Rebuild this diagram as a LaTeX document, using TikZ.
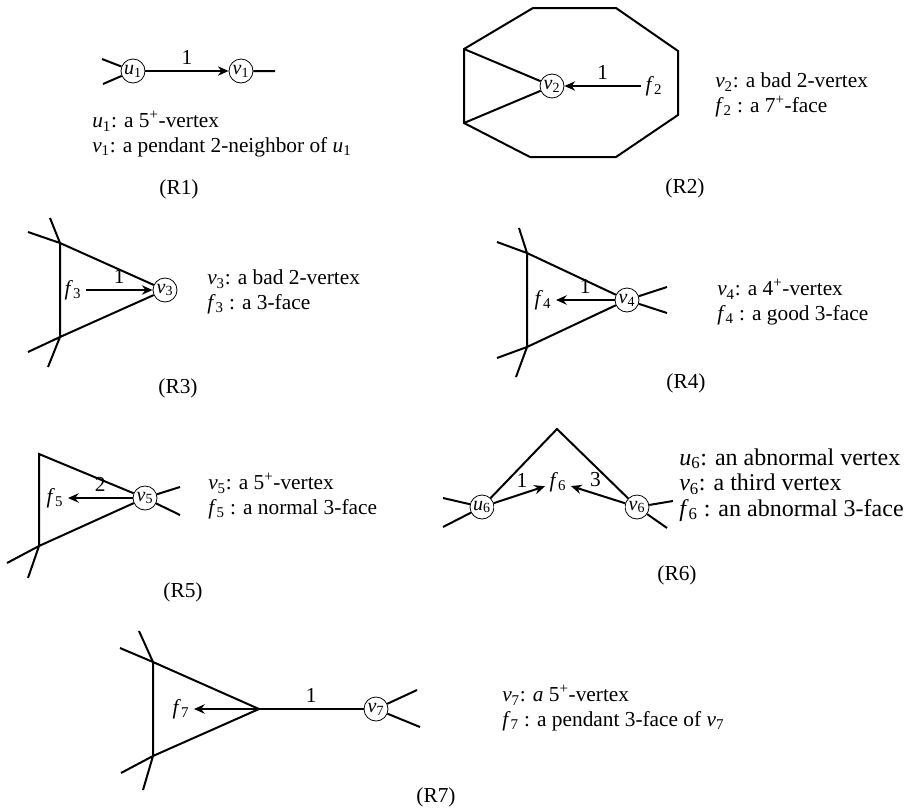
\documentclass[tikz,border=0pt]{standalone}
\usepackage{fontspec}
\setmainfont{Liberation Serif}
\usetikzlibrary{arrows.meta,positioning}
\newcommand{\lab}[2]{\textit{#1}\textsubscript{#2}}

\begin{document}
\begin{tikzpicture}[
  x=0.75pt, y=-0.75pt,
  font=\fontsize{16}{18.5}\selectfont,
  edge/.style={line width=1.5pt},
  vtx/.style={circle, draw, line width=0.6pt, minimum size=18pt,
              inner sep=0pt, font=\fontsize{15}{15}\selectfont},
  arr/.style={line width=1.5pt, -{Stealth[length=8pt,width=7pt]}},
  desc/.style={anchor=west, align=left, inner sep=0pt},
  title/.style={inner sep=0pt}
]
\useasboundingbox (0,0) rectangle (906,807);

% (R1)
\node[vtx] (u1) at (133,71) {\lab{u}{1}};
\node[vtx] (v1) at (241,71) {\lab{v}{1}};
\coordinate (u1a) at (102,59);
\coordinate (u1b) at (103,84);
\coordinate (v1r) at (275,71);
\draw[arr] (u1) -- node[above=1pt] {1} (v1);
\draw[edge] (u1a) -- (u1) (u1b) -- (u1) (v1) -- (v1r);
\node[desc] (t1) at (92,134) {\lab{u}{1}: a 5\textsuperscript{+}-vertex\\
  \lab{v}{1}: a pendant 2-neighbor of \lab{u}{1}};
\node[title] (r1) at (179,189) {(R1)};

% (R2)
\coordinate (o1) at (533,8);
\coordinate (o2) at (616,8);
\coordinate (o3) at (678,51);
\coordinate (o4) at (678,115);
\coordinate (o5) at (616,157);
\coordinate (o6) at (530,157);
\coordinate (o7) at (464,123);
\coordinate (o8) at (464,49);
\draw[edge] (o1) -- (o2) -- (o3) -- (o4) -- (o5) -- (o6) -- (o7) -- (o8) -- cycle;
\node[vtx] (v2) at (552,86) {\lab{v}{2}};
\draw[edge] (o8) -- (v2) -- (o7);
\node (f2) at (654,86) {\lab{f}{2}};
\draw[arr] (f2) -- node[above=1pt] {1} (v2);
\node[desc] (t2) at (715,95) {\lab{v}{2}: a bad 2-vertex\\
  \lab{f}{2} : a 7\textsuperscript{+}-face};
\node[title] (r2) at (685,188) {(R2)};

% (R3)
\coordinate (a3) at (60,243);
\coordinate (b3) at (60,337);
\coordinate (a3x) at (28,232);
\coordinate (a3y) at (50,218);
\coordinate (b3x) at (28,352);
\coordinate (b3y) at (48,367);
\node[vtx] (v3) at (165,290) {\lab{v}{3}};
\draw[edge] (v3) -- (a3) -- (b3) -- (v3);
\draw[edge] (a3x) -- (a3) -- (a3y) (b3x) -- (b3) -- (b3y);
\node (f3) at (73,290) {\lab{f}{3}};
\draw[arr] (f3) -- node[above=1pt] {1} (v3);
\node[desc] (t3) at (207,292) {\lab{v}{3}: a bad 2-vertex\\
  \lab{f}{3} : a 3-face};
\node[title] (r3) at (178,388) {(R3)};

% (R4)
\coordinate (a4) at (527,253);
\coordinate (b4) at (527,347);
\coordinate (a4x) at (497,242);
\coordinate (a4y) at (519,228);
\coordinate (b4x) at (497,358);
\coordinate (b4y) at (516,377);
\coordinate (v4a) at (667,287);
\coordinate (v4b) at (667,313);
\node[vtx] (v4) at (627,300) {\lab{v}{4}};
\draw[edge] (v4) -- (a4) -- (b4) -- (v4);
\draw[edge] (a4x) -- (a4) -- (a4y) (b4x) -- (b4) -- (b4y);
\draw[edge] (v4) -- (v4a) (v4) -- (v4b);
\node (f4) at (543,300) {\lab{f}{4}};
\draw[arr] (v4) -- node[above=1pt] {1} (f4);
\node[desc] (t4) at (717,302) {\lab{v}{4}: a 4\textsuperscript{+}-vertex\\
  \lab{f}{4} : a good 3-face};
\node[title] (r4) at (686,383) {(R4)};

% (R5)
\coordinate (a5) at (39,454);
\coordinate (b5) at (39,546);
\coordinate (b5x) at (7,563);
\coordinate (b5y) at (28,578);
\coordinate (v5a) at (180,487);
\coordinate (v5b) at (180,515);
\node[vtx] (v5) at (145,498) {\lab{v}{5}};
\draw[edge] (v5) -- (a5) -- (b5) -- (v5);
\draw[edge] (b5x) -- (b5) -- (b5y);
\draw[edge] (v5) -- (v5a) (v5) -- (v5b);
\node (f5) at (55,498) {\lab{f}{5}};
\draw[arr] (v5) -- node[above=1pt] {2} (f5);
\node[desc] (t5) at (208,496) {\lab{v}{5}: a 5\textsuperscript{+}-vertex\\
  \lab{f}{5} : a normal 3-face};
\node[title] (r5) at (183,592) {(R5)};

% (R6)
\coordinate (c6) at (557,429);
\coordinate (u6a) at (443,498);
\coordinate (u6b) at (443,527);
\coordinate (v6a) at (673,501);
\coordinate (v6b) at (667,528);
\node[vtx] (u6) at (482,507) {\lab{u}{6}};
\node[vtx] (v6) at (637,507) {\lab{v}{6}};
\draw[edge] (u6) -- (c6) -- (v6);
\draw[line width=0.6pt, double, double distance=1pt] (u6) -- (v6);
\draw[edge] (u6a) -- (u6) -- (u6b) (v6a) -- (v6) -- (v6b);
\node (f6) at (558,482) {\lab{f}{6}};
\draw[arr] (u6) -- node[pos=0.55, above=1pt] {1} (f6);
\draw[arr] (v6) -- node[pos=0.55, above=1pt] {3} (f6);
\node[desc, font=\fontsize{18}{19}\selectfont] (t6) at (679,485)
  {\lab{u}{6}: an abnormal vertex\\
  \lab{v}{6}: a third vertex\\
  \lab{f}{6} : an abnormal 3-face};
\node[title] (r6) at (677,575) {(R6)};

% (R7)
\coordinate (a7) at (153,662);
\coordinate (b7) at (153,756);
\coordinate (c7) at (259,709);
\coordinate (a7x) at (120,648);
\coordinate (a7y) at (139,631);
\coordinate (b7x) at (121,773);
\coordinate (b7y) at (143,790);
\coordinate (v7a) at (417,690);
\coordinate (v7b) at (420,727);
\node[vtx] (v7) at (376,709) {\lab{v}{7}};
\draw[edge] (c7) -- (a7) -- (b7) -- (c7);
\draw[edge] (a7x) -- (a7) -- (a7y) (b7x) -- (b7) -- (b7y);
\draw[edge] (c7) -- node[above=1pt] {1} (v7);
\draw[edge] (v7) -- (v7a) (v7) -- (v7b);
\node (f7) at (181,709) {\lab{f}{7}};
\draw[arr] (c7) -- (f7);
\node[desc] (t7) at (502,708) {\lab{v}{7}: \textit{a} 5\textsuperscript{+}-vertex\\
  \lab{f}{7} : a pendant 3-face of \lab{v}{7}};
\node[title] (r7) at (436,797) {(R7)};
\end{tikzpicture}
\end{document}
